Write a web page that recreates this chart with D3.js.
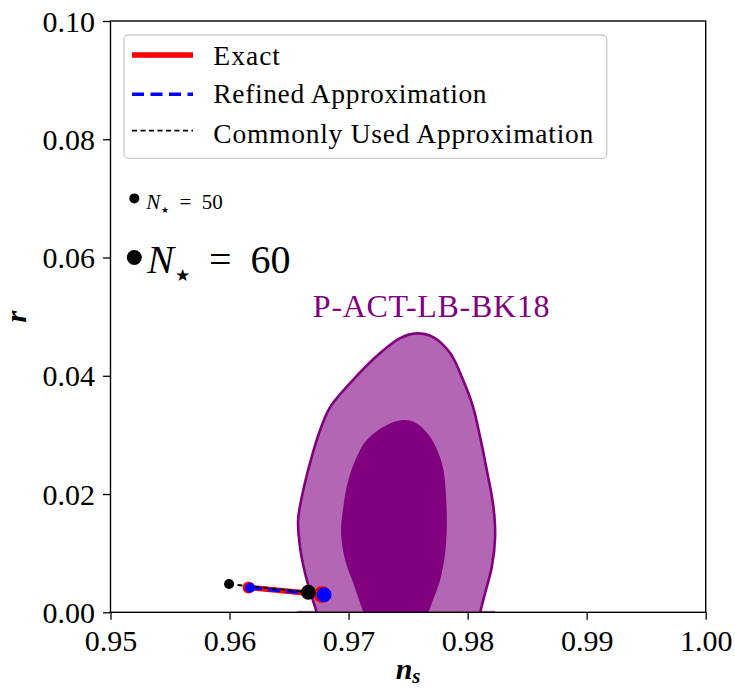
<!DOCTYPE html>
<html><head><meta charset="utf-8">
<script src="https://cdn.jsdelivr.net/npm/d3@7"></script>
<style>body{margin:0;background:#fff;} svg{display:block;}</style>
</head><body><svg id="c" width="735" height="691"></svg>
<script>
// ---------- data ----------
const xTicks = [0.95, 0.96, 0.97, 0.98, 0.99, 1.00];
const yTicks = [0.00, 0.02, 0.04, 0.06, 0.08, 0.10];

// 95% contour (open path, bottom-left -> top -> bottom-right)
const outerContour = [[0.96733,0],[0.96691,0.00259],[0.96634,0.00664],[0.96592,0.01104],[0.96576,0.01560],[0.96607,0.01949],[0.96676,0.02524],[0.96761,0.03082],[0.96845,0.03471],[0.97013,0.03877],[0.97265,0.04384],[0.97433,0.04637],[0.97573,0.04717],[0.97710,0.04654],[0.97853,0.04384],[0.97962,0.03927],[0.98046,0.03471],[0.98105,0.02964],[0.98161,0.02406],[0.98217,0.01780],[0.98231,0.01273],[0.98203,0.00766],[0.98147,0.00326],[0.98105,0]];
// 68% contour
const innerContour = [[0.97124,0],[0.97040,0.00490],[0.96971,0.00884],[0.96937,0.01336],[0.96956,0.01785],[0.96998,0.02237],[0.97069,0.02631],[0.97153,0.02913],[0.97321,0.03167],[0.97461,0.03251],[0.97573,0.03195],[0.97685,0.02969],[0.97755,0.02688],[0.97797,0.02406],[0.97819,0.01954],[0.97825,0.01447],[0.97811,0.00997],[0.97769,0.00546],[0.97699,0.00152],[0.97671,0]];
const bottomStrip = [0.9657, 0.9823];

const exactNs = [0.96160, 0.96777],   exactR = [0.00419, 0.00301];
const refinedNs = [0.96172, 0.96794], refinedR = [0.00416, 0.00298];
const commonNs = [0.95996, 0.96662],  commonR = [0.00478, 0.00338];

const markerNs = [0.952, 0.952], markerR = [0.07, 0.06], markerLabels = ["50", "60"];
const datasetLabel = "P-ACT-LB-BK18", datasetPos = [0.967, 0.05];
const legendLabels = ["Exact", "Refined Approximation", "Commonly Used Approximation"];

// ---------- layout ----------
const svg = d3.select("#c");
const L = 110.5, R = 705.7, T = 21, B = 612.3;
const x = d3.scaleLinear().domain([0.95, 1.00]).range([L, R]);
const y = d3.scaleLinear().domain([0, 0.10]).range([B, T]);
const serif = "'Liberation Serif', 'Times New Roman', serif";

svg.append("defs").append("clipPath").attr("id", "clip")
  .append("rect").attr("x", L).attr("y", T).attr("width", R - L).attr("height", B - T);
const plot = svg.append("g").attr("clip-path", "url(#clip)");

const curve = d3.line().x(d => x(d[0])).y(d => y(d[1])).curve(d3.curveCatmullRom.alpha(0.5));
function closedPath(pts) { return curve(pts) + "Z"; }

// contours
plot.append("path").attr("d", closedPath(outerContour)).attr("fill", "#b366b3");
plot.append("rect").attr("x", x(bottomStrip[0])).attr("y", B - 1.5)
  .attr("width", x(bottomStrip[1]) - x(bottomStrip[0])).attr("height", 1.5).attr("fill", "#b366b3");
plot.append("path").attr("d", closedPath(innerContour)).attr("fill", "#800080");
plot.append("path").attr("d", curve(outerContour)).attr("fill", "none")
  .attr("stroke", "#800080").attr("stroke-width", 2.6);

// model lines
const seg = (ns, r) => ns.map((v, i) => [v, r[i]]);
const lin = d3.line().x(d => x(d[0])).y(d => y(d[1]));
plot.append("path").attr("d", lin(seg(exactNs, exactR))).attr("stroke", "#ff0000")
  .attr("stroke-width", 5.5).attr("fill", "none");
plot.append("path").attr("d", lin(seg(refinedNs, refinedR))).attr("stroke", "#0000ff")
  .attr("stroke-width", 3.5).attr("stroke-dasharray", "12,6").attr("fill", "none");
plot.append("path").attr("d", lin(seg(commonNs, commonR))).attr("stroke", "#000")
  .attr("stroke-width", 2).attr("stroke-dasharray", "5,3.5").attr("fill", "none");

const radii = [5, 7.5];
[[exactNs, exactR, "#ff0000", 1], [refinedNs, refinedR, "#0000ff", 0], [commonNs, commonR, "#000", 0]].forEach(([ns, r, c, extra]) => {
  plot.selectAll(null).data(ns).enter().append("circle")
    .attr("cx", d => x(d)).attr("cy", (d, i) => y(r[i])).attr("r", (d, i) => radii[i] + extra).attr("fill", c);
});

// N* markers
const labelSizes = [21, 40], wordSp = [5, 9];
markerNs.forEach((v, i) => {
  svg.append("circle").attr("cx", x(v)).attr("cy", y(markerR[i])).attr("r", radii[i]).attr("fill", "#000");
  const t = svg.append("text").attr("x", x(v) + (i ? 13 : 12)).attr("y", y(markerR[i]) + (i ? 15 : 10.5))
    .attr("font-family", serif).attr("font-size", labelSizes[i]).attr("word-spacing", wordSp[i]);
  t.append("tspan").attr("font-style", "italic").text("N");
  t.append("tspan").attr("font-size", labelSizes[i] * 0.42).attr("dy", labelSizes[i] * 0.2).attr("dx", 1).text("\u2605");
  t.append("tspan").attr("dy", -labelSizes[i] * 0.2).text(" = " + markerLabels[i]);
});

// dataset label
svg.append("text").attr("x", x(datasetPos[0])).attr("y", y(datasetPos[1]))
  .attr("font-family", serif).attr("font-size", 32).attr("fill", "#800080")
  .attr("textLength", 236.7).attr("lengthAdjust", "spacing").text(datasetLabel);

// axes
const xAxis = svg.append("g").attr("transform", `translate(0,${B})`)
  .call(d3.axisBottom(x).tickValues(xTicks).tickFormat(d3.format(".2f")).tickSize(7.5).tickPadding(3));
const yAxis = svg.append("g").attr("transform", `translate(${L},0)`)
  .call(d3.axisLeft(y).tickValues(yTicks).tickFormat(d3.format(".2f")).tickSize(7.5).tickPadding(8));
[xAxis, yAxis].forEach(a => {
  a.select(".domain").remove();
  a.selectAll("line").attr("stroke", "#000").attr("stroke-width", 1.3);
  a.selectAll("text").attr("font-family", serif).attr("font-size", 30).attr("fill", "#000");
});
xAxis.selectAll("text").attr("dy", "0.93em");
yAxis.selectAll("text").attr("dy", "0.34em");

// frame
svg.append("rect").attr("x", L).attr("y", T).attr("width", R - L).attr("height", B - T)
  .attr("fill", "none").attr("stroke", "#000").attr("stroke-width", 1.4);

// axis labels
const xl = svg.append("text").attr("x", (L + R) / 2).attr("y", 679).attr("text-anchor", "middle")
  .attr("font-family", serif).attr("font-size", 30).attr("font-weight", "bold").attr("font-style", "italic");
xl.append("tspan").text("n");
xl.append("tspan").attr("font-size", 21).attr("dy", 4).text("s");
svg.append("text").attr("transform", `translate(26,${(T + B) / 2}) rotate(-90)`).attr("text-anchor", "middle")
  .attr("font-family", serif).attr("font-size", 30).attr("font-weight", "bold").attr("font-style", "italic").text("r");

// legend
const lg = svg.append("g");
lg.append("rect").attr("x", 124).attr("y", 35).attr("width", 482.7).attr("height", 123.3).attr("rx", 4)
  .attr("fill", "#fff").attr("fill-opacity", 0.8).attr("stroke", "#cccccc").attr("stroke-width", 1.3);
const lgY = [55, 94.3, 130.7], lgText = [65, 103.3, 143.3], lgW = [66.7, 273.3, 380];
const lgStyle = [["#ff0000", 5.5, null], ["#0000ff", 3.5, "12,6.5"], ["#000", 1.8, "5,3.5"]];
legendLabels.forEach((s, i) => {
  lg.append("line").attr("x1", 132).attr("x2", 193).attr("y1", lgY[i]).attr("y2", lgY[i])
    .attr("stroke", lgStyle[i][0]).attr("stroke-width", lgStyle[i][1]).attr("stroke-dasharray", lgStyle[i][2]);
  lg.append("text").attr("x", 213.3).attr("y", lgText[i]).attr("font-family", serif).attr("font-size", 27.5)
    .attr("textLength", lgW[i]).attr("lengthAdjust", "spacing").text(s);
});
</script></body></html>
